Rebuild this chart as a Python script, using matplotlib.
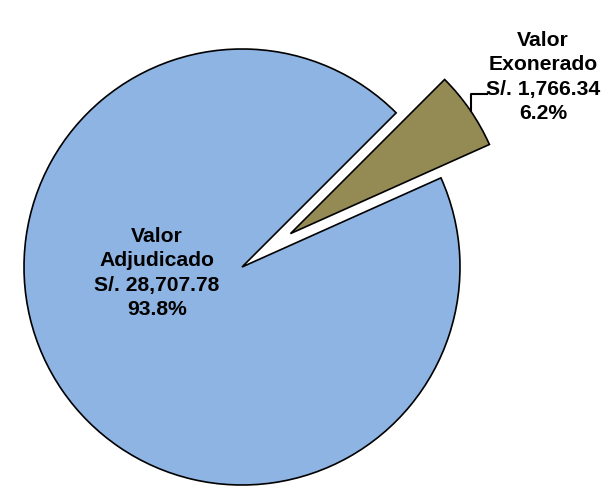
import matplotlib.pyplot as plt

plt.rcParams['font.family'] = ['Liberation Sans', 'DejaVu Sans']

labels = ['Valor\nAdjudicado', 'Valor\nExonerado']
amounts = [28707.78, 1766.34]
pct_labels = ['93.8%', '6.2%']
colors = ['#8EB4E3', '#948A54']
explode = [0, 0.27]

texts = ['%s\nS/. %s\n%s' % (lab, format(a, ',.2f'), p)
         for lab, a, p in zip(labels, amounts, pct_labels)]

fig = plt.figure(figsize=(6.06, 4.86), dpi=100)
ax = fig.add_axes([0, 0, 1, 1])

ax.pie(amounts, colors=colors, explode=explode, startangle=45,
       counterclock=True,
       wedgeprops=dict(edgecolor='black', linewidth=1.2))

# pixel-matched view: center at (242, 267), radius ~218 px
R = 218
ax.set_xlim(-242 / R, (606 - 242) / R)
ax.set_ylim(-(486 - 267) / R, 267 / R)
ax.set_aspect('auto')
ax.axis('off')

ax.text((157 - 242) / R, (267 - 273) / R, texts[0], ha='center', va='center',
        fontsize=15.2, fontweight='bold', linespacing=1.37)
ax.text((543 - 242) / R, (267 - 77) / R, texts[1], ha='center', va='center',
        fontsize=15.2, fontweight='bold', linespacing=1.37)

# leader line for the small slice label
lx = [(487 - 242) / R, (471 - 242) / R, (471 - 242) / R]
ly = [(267 - 94) / R, (267 - 94) / R, (267 - 111) / R]
ax.plot(lx, ly, color='black', lw=1.5)

fig.savefig('out.png', dpi=100)
